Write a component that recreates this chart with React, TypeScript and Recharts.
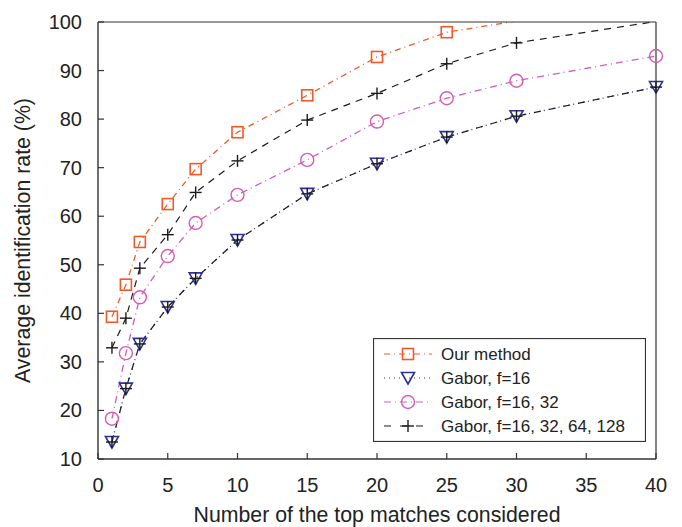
import React from 'react';
import { LineChart, Line, XAxis, YAxis, Legend, Label } from 'recharts';

const matches = [1, 2, 3, 5, 7, 10, 15, 20, 25, 30, 40];
const ourMethod = [39.3, 45.9, 54.7, 62.5, 69.7, 77.3, 84.9, 92.8, 97.9, 100.2, null];
const gabor16 = [13.5, 24.5, 33.7, 41.3, 47.2, 55.1, 64.6, 70.8, 76.3, 80.6, 86.6];
const gabor16_32 = [18.3, 31.8, 43.3, 51.8, 58.6, 64.4, 71.6, 79.5, 84.3, 87.9, 93.0];
const gaborAll = [32.9, 39.0, 49.3, 56.2, 64.9, 71.4, 79.8, 85.3, 91.4, 95.7, 100.1];
const xTicks = [0, 5, 10, 15, 20, 25, 30, 35, 40];
const yTicks = [10, 20, 30, 40, 50, 60, 70, 80, 90, 100];
const seriesNames = ['Our method', 'Gabor, f=16', 'Gabor, f=16, 32', 'Gabor, f=16, 32, 64, 128'];

const data = matches.map((m, i) => ({
  m,
  our: ourMethod[i],
  g16: gabor16[i],
  g1632: gabor16_32[i],
  gall: gaborAll[i],
}));

const ORANGE = '#f05a2a';
const BLUE = '#2e3192';
const MAGENTA = '#d65cb5';
const BLACK = '#1a1a1a';
const AXIS = '#333333';
const TEXT = '#222222';
const FONT = '"Liberation Sans", Arial, sans-serif';

const ok = (p: any) => p && p.cx != null && p.cy != null && p.value != null && !(Array.isArray(p.value) ? false : p.value > 100);

const SquareShape = ({ cx, cy }: any) => (
  <rect x={cx - 5.5} y={cy - 5.5} width={11} height={11} fill="none" stroke={ORANGE} strokeWidth={1.6} />
);
const CircleShape = ({ cx, cy }: any) => (
  <circle cx={cx} cy={cy} r={6.5} fill="none" stroke={MAGENTA} strokeWidth={1.4} />
);
const TriShape = ({ cx, cy }: any) => (
  <polygon
    points={`${cx - 6.5},${cy - 5.5} ${cx + 6.5},${cy - 5.5} ${cx},${cy + 6}`}
    fill="none"
    stroke={BLUE}
    strokeWidth={1.6}
  />
);
const PlusShape = ({ cx, cy, color }: any) => (
  <g stroke={color || BLACK} strokeWidth={1.4}>
    <line x1={cx - 6} y1={cy} x2={cx + 6} y2={cy} />
    <line x1={cx} y1={cy - 6} x2={cx} y2={cy + 6} />
  </g>
);

const mkDot = (Shape: any) => (p: any) => {
  const key = `d-${p.index}`;
  if (!ok(p)) return <g key={key} />;
  return (
    <g key={key}>
      <Shape cx={p.cx} cy={p.cy} />
    </g>
  );
};

const XTick = ({ x, y, payload }: any) => (
  <g>
    <line x1={x} y1={y} x2={x} y2={y - 6} stroke={AXIS} strokeWidth={1.2} />
    <text x={x} y={y + 26} textAnchor="middle" dominantBaseline="central" fontSize={20} fill={TEXT} fontFamily={FONT}>
      {payload.value}
    </text>
  </g>
);

const YTick = ({ x, y, payload }: any) => (
  <g>
    <line x1={x} y1={y} x2={x + 6} y2={y} stroke={AXIS} strokeWidth={1.2} />
    <text x={x - 16} y={y} textAnchor="end" dominantBaseline="central" fontSize={20} fill={TEXT} fontFamily={FONT}>
      {payload.value}
    </text>
  </g>
);

const legendRows = [
  { name: seriesNames[0], color: ORANGE, dash: '6 4 1 4', Shape: SquareShape },
  { name: seriesNames[1], color: BLUE, dash: '1 4', Shape: TriShape },
  { name: seriesNames[2], color: MAGENTA, dash: '7 4 1 4', Shape: CircleShape },
  { name: seriesNames[3], color: BLACK, dash: '7 9', Shape: PlusShape },
];

const renderLegend = () => (
  <svg width={273} height={104} style={{ display: 'block' }}>
    <rect x={0.5} y={0.5} width={272} height={103} fill="#ffffff" stroke={AXIS} strokeWidth={1.2} />
    {legendRows.map((r, i) => {
      const cy = 16 + i * 24;
      return (
        <g key={r.name}>
          <line x1={11} y1={cy} x2={59} y2={cy} stroke={r.color} strokeWidth={1.2} strokeDasharray={r.dash} />
          <r.Shape cx={35} cy={cy} />
          <text x={68} y={cy} dominantBaseline="central" fontSize={17} fill={TEXT} fontFamily={FONT}>
            {r.name}
          </text>
        </g>
      );
    })}
  </svg>
);

export default function App() {
  return (
    <LineChart
      width={666}
      height={519}
      data={data}
      margin={{ top: 14, right: 18, bottom: 0, left: 0 }}
      style={{ fontFamily: FONT }}
    >
      <XAxis
        dataKey="m"
        type="number"
        domain={[0, 40]}
        ticks={xTicks}
        height={68}
        tickSize={0}
        tickMargin={0}
        tickLine={false}
        tick={<XTick />}
        axisLine={{ stroke: AXIS, strokeWidth: 1.4 }}
        interval={0}
      >
        <Label
          content={({ viewBox }: any) => (
            <text
              x={viewBox.x + viewBox.width / 2}
              y={viewBox.y + 56}
              textAnchor="middle"
              dominantBaseline="central"
              fontSize={21.3}
              fill={TEXT}
              fontFamily={FONT}
            >
              Number of the top matches considered
            </text>
          )}
        />
      </XAxis>
      <XAxis
        xAxisId="top"
        dataKey="m"
        type="number"
        domain={[0, 40]}
        ticks={xTicks}
        orientation="top"
        mirror
        height={1}
        tickSize={6}
        tick={false}
        tickLine={{ stroke: AXIS, strokeWidth: 1.2 }}
        axisLine={{ stroke: AXIS, strokeWidth: 1.2 }}
        interval={0}
      />
      <YAxis
        type="number"
        domain={[10, 100]}
        ticks={yTicks}
        allowDataOverflow
        width={90}
        tickSize={0}
        tickMargin={0}
        tickLine={false}
        tick={<YTick />}
        axisLine={{ stroke: AXIS, strokeWidth: 1.4 }}
        interval={0}
      >
        <Label
          content={({ viewBox }: any) => {
            const cx = viewBox.x + 15;
            const cy = viewBox.y + viewBox.height / 2;
            return (
              <text
                x={cx}
                y={cy}
                transform={`rotate(-90 ${cx} ${cy})`}
                textAnchor="middle"
                dominantBaseline="central"
                fontSize={21.3}
                fill={TEXT}
                fontFamily={FONT}
              >
                Average identification rate (%)
              </text>
            );
          }}
        />
      </YAxis>
      <YAxis
        yAxisId="right"
        type="number"
        domain={[10, 100]}
        ticks={yTicks}
        orientation="right"
        mirror
        width={1}
        tickSize={6}
        tick={false}
        tickLine={{ stroke: AXIS, strokeWidth: 1.2 }}
        axisLine={{ stroke: AXIS, strokeWidth: 1.2 }}
        interval={0}
      />
      <Legend
        layout="vertical"
        align="center"
        verticalAlign="middle"
        content={renderLegend}
        wrapperStyle={{ position: 'absolute', left: 365, top: 330, width: 273, height: 104 }}
      />
      <Line
        dataKey="g16"
        name={seriesNames[1]}
        stroke={BLUE}
        strokeWidth={1.3}
        strokeDasharray="1 4"
        dot={mkDot(TriShape)}
        activeDot={false}
        isAnimationActive={false}
        legendType="none"
      />
      <Line
        dataKey="g16"
        name="overlay"
        stroke={BLACK}
        strokeWidth={1.2}
        strokeDasharray="7 8"
        dot={mkDot(PlusShape)}
        activeDot={false}
        isAnimationActive={false}
        legendType="none"
      />
      <Line
        dataKey="g1632"
        name={seriesNames[2]}
        stroke={MAGENTA}
        strokeWidth={1.3}
        strokeDasharray="7 4 1 4"
        dot={mkDot(CircleShape)}
        activeDot={false}
        isAnimationActive={false}
      />
      <Line
        dataKey="gall"
        name={seriesNames[3]}
        stroke={BLACK}
        strokeWidth={1.2}
        strokeDasharray="7 6"
        dot={mkDot(PlusShape)}
        activeDot={false}
        isAnimationActive={false}
      />
      <Line
        dataKey="our"
        name={seriesNames[0]}
        stroke={ORANGE}
        strokeWidth={1.3}
        strokeDasharray="6 4 1 4"
        dot={mkDot(SquareShape)}
        activeDot={false}
        isAnimationActive={false}
        connectNulls={false}
      />
    </LineChart>
  );
}
